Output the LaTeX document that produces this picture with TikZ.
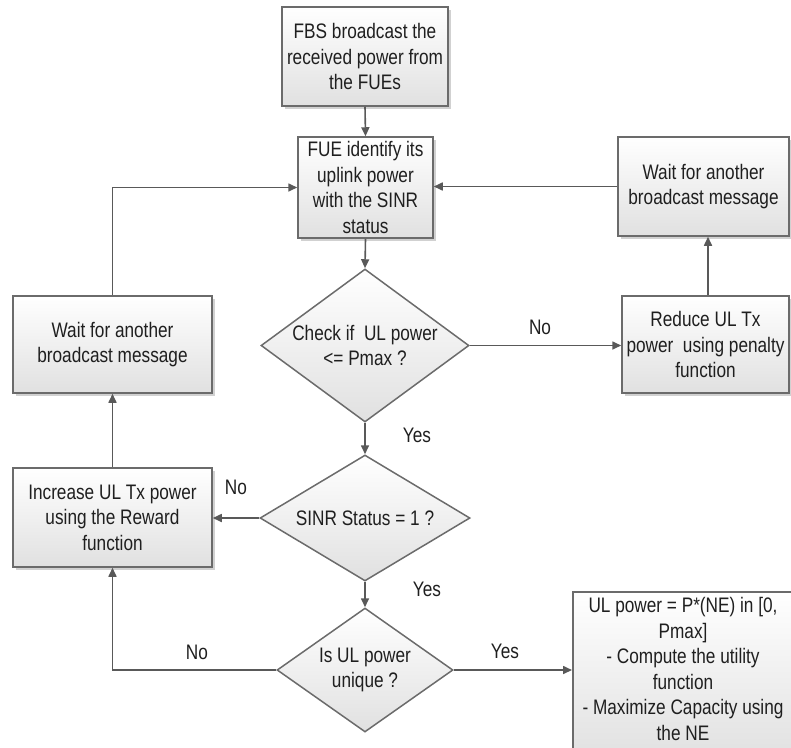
\documentclass[tikz,border=0pt]{standalone}
\usepackage{fontspec}
\setmainfont[FakeStretch=0.82]{Liberation Sans}
\usetikzlibrary{shapes.geometric,arrows.meta,shadows}
\begin{document}
\begin{tikzpicture}[x=1pt,y=-1pt,
  every node/.style={font=\fontsize{21}{25.5}\selectfont, text=black!88},
  box/.style={draw=black!58, line width=1.5pt, rectangle, inner sep=0pt, align=center,
    top color=white, bottom color=black!12,
    drop shadow={shadow xshift=2.5pt,shadow yshift=-2.5pt,fill=black!30,opacity=0.6}},
  dia/.style={draw=black!58, line width=1.5pt, diamond, inner sep=0pt,
    top color=white, bottom color=black!12},
  conn/.style={draw=black!65, line width=1.6pt, -{Triangle[length=9pt,width=8pt]}},
  lbl/.style={inner sep=0pt}
]
\useasboundingbox (0,0) rectangle (791,747);
\clip (0,0) rectangle (791,747);

\node[box, minimum width=166pt, minimum height=99pt] (fbs) at (365,56.5) {FBS broadcast the\\received power from\\the FUEs};
\node[box, minimum width=135pt, minimum height=101pt] (fue) at (365.5,187.5) {FUE identify its\\uplink power\\with the SINR\\status};
\node[box, minimum width=171pt, minimum height=99pt] (waitr) at (703.5,186.5) {Wait for another\\broadcast message};
\node[box, minimum width=167pt, minimum height=97pt] (reduce) at (705.5,344.5) {Reduce UL Tx\\power\ \ using penalty\\function};
\node[box, minimum width=199pt, minimum height=97pt] (waitl) at (112.5,344.5) {Wait for another\\broadcast message};
\node[box, minimum width=199pt, minimum height=99pt] (incr) at (112.5,517.5) {Increase UL Tx power\\using the Reward\\function};
\node[box, minimum width=228pt, minimum height=169pt, anchor=north west] (result) at (572,591) {};
\node[align=center, inner sep=0pt] (resulttext) at (683,669) {UL power = P*(NE) in [0,\\Pmax]\\- Compute the utility\\function\\- Maximize Capacity using\\the NE};

\node[dia, minimum width=208pt, minimum height=153pt] (d1) at (365,345.5) {};
\node[align=center, inner sep=0pt] (d1t) at (d1.center) {Check if\ \ UL power\\<= Pmax ?};
\node[dia, minimum width=210pt, minimum height=126pt] (d2) at (365,518) {};
\node[align=center, inner sep=0pt] (d2t) at (d2.center) {SINR Status = 1 ?};
\node[dia, minimum width=176pt, minimum height=124pt] (d3) at (365,670) {};
\node[align=center, inner sep=0pt] (d3t) at (d3.center) {Is UL power\\unique ?};

\draw[conn] (fbs.south) -- (fue.north);
\draw[conn] (fue.south) -- (d1.north);
\draw[conn] (d1.east) -- (reduce.west |- d1.east);
\draw[conn] (reduce.north -| 708,0) -- (waitr.south -| 708,0);
\draw[conn] (waitr.west) -- (fue.east |- waitr.west);
\draw[conn] (waitl.north) |- (fue.west);
\draw[conn] (d1.south) -- (d2.north);
\draw[conn] (d2.west) -- (incr.east |- d2.west);
\draw[conn] (incr.north) -- (waitl.south);
\draw[conn] (d2.south) -- (d3.north);
\draw[conn] (d3.west) -| (incr.south);
\draw[conn] (d3.east) -- (result.west |- d3.east);

\node[lbl] (l1) at (540,327) {No};
\node[lbl] (l2) at (417,435) {Yes};
\node[lbl] (l3) at (236,487) {No};
\node[lbl] (l4) at (427,589) {Yes};
\node[lbl] (l5) at (197,652) {No};
\node[lbl] (l6) at (505,651) {Yes};
\end{tikzpicture}
\end{document}
